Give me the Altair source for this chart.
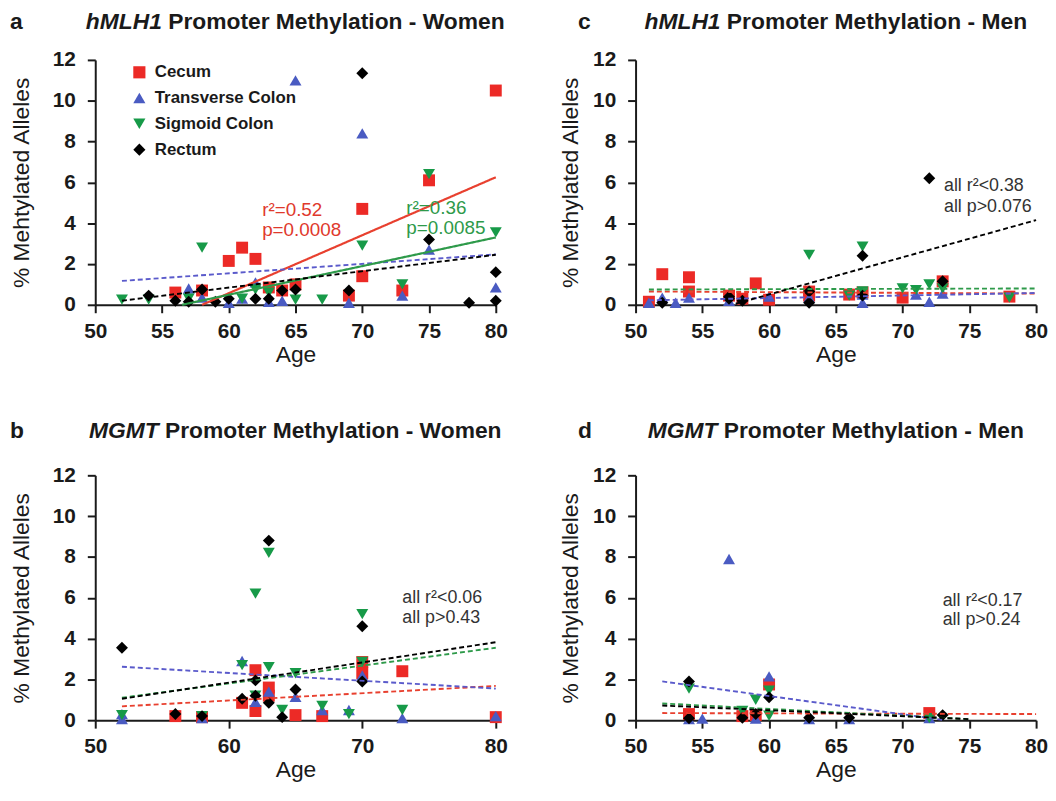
import altair as alt
import pandas as pd

FONT = "Liberation Sans"
SITES = ["Cecum", "Transverse Colon", "Sigmoid Colon", "Rectum"]
SHAPES = ["square", "triangle-up", "triangle-down", "diamond"]
COLORS = ["#ec2a26", "#4a5bc2", "#179a48", "#000000"]
LINE_COLORS = ["#e8402f", "#5a5acb", "#2e9a4a", "#000000"]

# ---------------- panel a: hMLH1 Women ----------------
A_CECUM_AGE = [56, 58, 60, 61, 62, 63, 64, 65, 69, 70, 70, 73, 75, 80]
A_CECUM_VAL = [0.6, 0.7, 2.15, 2.8, 2.25, 0.85, 0.7, 1.0, 0.45, 4.7, 1.4, 0.7, 6.1, 10.5]
A_TRANS_AGE = [57, 58, 60, 61, 62, 63, 64, 65, 69, 70, 73, 75, 80]
A_TRANS_VAL = [0.8, 0.35, 0.1, 0.3, 1.1, 0.15, 0.2, 11.0, 0.1, 8.4, 0.45, 2.7, 0.85]
A_SIGM_AGE = [52, 54, 57, 58, 61, 62, 63, 65, 67, 70, 73, 75, 80]
A_SIGM_VAL = [0.25, 0.25, 0.3, 2.8, 0.3, 0.75, 0.6, 0.25, 0.25, 2.9, 1.0, 6.4, 3.55]
A_RECT_AGE = [54, 56, 57, 58, 59, 60, 62, 63, 64, 65, 69, 70, 75, 78, 80, 80]
A_RECT_VAL = [0.45, 0.2, 0.15, 0.75, 0.15, 0.3, 0.3, 0.3, 0.7, 0.75, 0.7, 11.35, 3.2, 0.1, 1.6, 0.2]
A_FIT_X1 = [58, 52, 56.5, 52]
A_FIT_Y1 = [0.0, 1.17, 0.0, 0.2]
A_FIT_X2 = [80, 80, 80, 80]
A_FIT_Y2 = [6.25, 2.47, 3.3, 2.45]
A_FIT_STYLE = ["solid", "dash", "solid", "dash"]
A_NOTE_RED = (["r²=0.52", "p=0.0008"], [62.5, 62.5], [4.64, 3.66])
A_NOTE_GREEN = (["r²=0.36", "p=0.0085"], [73.3, 73.3], [4.74, 3.76])

# ---------------- panel b: MGMT Women ----------------
B_CECUM_AGE = [56, 58, 61, 62, 62, 63, 63, 65, 67, 70, 70, 73, 80]
B_CECUM_VAL = [0.2, 0.15, 0.85, 2.45, 0.45, 1.6, 1.2, 0.25, 0.2, 2.85, 2.3, 2.4, 0.15]
B_TRANS_AGE = [52, 52, 58, 61, 62, 63, 65, 67, 69, 70, 73, 80]
B_TRANS_VAL = [0.3, 0.05, 0.1, 2.9, 0.9, 1.4, 1.15, 0.5, 0.5, 2.2, 0.1, 0.2]
B_SIGM_AGE = [52, 58, 61, 62, 62, 63, 63, 64, 65, 67, 69, 70, 70, 73]
B_SIGM_VAL = [0.25, 0.2, 2.7, 6.2, 1.2, 8.2, 2.6, 0.5, 2.3, 0.7, 0.3, 5.2, 2.85, 0.5]
B_RECT_AGE = [52, 56, 58, 61, 62, 62, 63, 63, 64, 65, 70, 70]
B_RECT_VAL = [3.55, 0.3, 0.2, 1.05, 1.95, 1.2, 8.8, 0.85, 0.15, 1.5, 4.6, 1.9]
B_FIT_X1 = [52, 52, 52, 52]
B_FIT_Y1 = [0.68, 2.62, 1.1, 1.05]
B_FIT_X2 = [80, 80, 80, 80]
B_FIT_Y2 = [1.68, 1.55, 3.55, 3.82]
B_FIT_STYLE = ["dash", "dash", "dash", "dash"]
B_NOTE = (["all r²<0.06", "all p>0.43"], [73.0, 73.0], [5.97, 5.0])

# ---------------- panel c: hMLH1 Men ----------------
C_CECUM_AGE = [51, 52, 54, 54, 57, 58, 59, 60, 63, 63, 66, 67, 70, 73, 78]
C_CECUM_VAL = [0.15, 1.5, 1.35, 0.65, 0.45, 0.3, 1.05, 0.25, 0.45, 0.65, 0.5, 0.6, 0.35, 1.15, 0.4]
C_TRANS_AGE = [51, 52, 53, 54, 57, 60, 63, 67, 67, 71, 72, 73]
C_TRANS_VAL = [0.1, 0.35, 0.1, 0.35, 0.2, 0.4, 0.35, 0.5, 0.1, 0.5, 0.15, 0.55]
C_SIGM_AGE = [63, 66, 67, 67, 70, 71, 72, 73, 78]
C_SIGM_VAL = [2.45, 0.45, 2.85, 0.65, 0.8, 0.72, 1.0, 0.8, 0.35]
C_RECT_AGE = [52, 57, 57, 58, 63, 63, 67, 67, 72, 73]
C_RECT_VAL = [0.1, 0.3, 0.4, 0.2, 0.65, 0.1, 2.4, 0.45, 6.2, 1.15]
C_FIT_X1 = [51, 51, 51, 57.5]
C_FIT_Y1 = [0.65, 0.22, 0.75, 0.05]
C_FIT_X2 = [80, 80, 80, 80]
C_FIT_Y2 = [0.55, 0.58, 0.8, 4.15]
C_FIT_STYLE = ["dash", "dash", "dash", "dash"]
C_NOTE = (["all r²<0.38", "all p>0.076"], [73.1, 73.1], [5.8, 4.8])

# ---------------- panel d: MGMT Men ----------------
D_CECUM_AGE = [54, 58, 59, 60, 72]
D_CECUM_VAL = [0.3, 0.2, 0.25, 1.75, 0.35]
D_TRANS_AGE = [54, 55, 57, 59, 60, 63, 66, 72]
D_TRANS_VAL = [0.05, 0.08, 7.9, 0.08, 2.15, 0.05, 0.05, 0.1]
D_SIGM_AGE = [54, 58, 59, 60, 60, 72]
D_SIGM_VAL = [1.55, 0.45, 1.0, 1.45, 0.22, 0.1]
D_RECT_AGE = [54, 54, 58, 59, 60, 63, 66, 73]
D_RECT_VAL = [1.9, 0.1, 0.12, 0.3, 1.12, 0.12, 0.12, 0.25]
D_FIT_X1 = [52, 52, 52, 52]
D_FIT_Y1 = [0.35, 1.9, 0.82, 0.72]
D_FIT_X2 = [80, 73, 75, 75]
D_FIT_Y2 = [0.3, 0.02, 0.05, 0.05]
D_FIT_STYLE = ["dash", "dash", "dash", "dash"]
D_NOTE = (["all r²<0.17", "all p>0.24"], [73.0, 73.0], [5.85, 4.9])

Y_TICKS = [0, 2, 4, 6, 8, 10, 12]
X_TICKS_5 = [50, 55, 60, 65, 70, 75, 80]
X_TICKS_10 = [50, 60, 70, 80]

W, H = 404, 247
INK = "#1a1a1a"

# Arial/Liberation Sans Bold advance widths (per 1000 em) for centring the mixed-style titles
BOLD_W = {" ": 278, "-": 333, "1": 556, "h": 611, "M": 833, "L": 611, "H": 722, "G": 778,
          "T": 611, "P": 667, "r": 389, "o": 611, "m": 889, "t": 333, "e": 556, "y": 556,
          "l": 278, "a": 556, "i": 278, "n": 611, "W": 944}


def tw(s, size):
    return sum(BOLD_W.get(c, 600) for c in s) * size / 1000.0


def txt(s, x, y, size, align, style="normal", weight="bold", color=INK):
    return alt.Chart(pd.DataFrame({"t": [s]})).mark_text(
        align=align, baseline="middle", fontSize=size, fontWeight=weight,
        fontStyle=style, font=FONT, color=color
    ).encode(x=alt.value(x), y=alt.value(y), text="t:N")


def panel(points, fit, notes, italic, rest, ytitle, xticks, letter, letter_x, title_y, legend, ytp):
    rows = []
    for site, ages, vals in points:
        for a, v in zip(ages, vals):
            rows.append({"site": site, "age": a, "val": v})
    pdf = pd.DataFrame(rows)
    fdf = pd.DataFrame({"site": SITES, "age": fit[0], "val": fit[1], "age2": fit[2],
                        "val2": fit[3], "style": fit[4]})
    xs = alt.Scale(domain=[50, 80], nice=False, zero=False)
    ys = alt.Scale(domain=[0, 12], nice=False)

    def xax():
        return alt.Axis(values=xticks, title="Age")

    def yax():
        return alt.Axis(values=Y_TICKS, title=ytitle, titlePadding=ytp)

    if legend:
        leg = alt.Legend(orient="none", legendX=36, legendY=4, title=None, labelFontSize=17,
                         labelFontWeight="bold", labelFont=FONT, labelColor=INK, symbolSize=150,
                         rowPadding=8, padding=0, labelOffset=7, symbolOpacity=1, symbolStrokeWidth=0)
    else:
        leg = None
    pts = alt.Chart(pdf).mark_point(filled=True, opacity=1, size=145, strokeWidth=0).encode(
        x=alt.X("age:Q", scale=xs, axis=xax()),
        y=alt.Y("val:Q", scale=ys, axis=yax()),
        color=alt.Color("site:N", scale=alt.Scale(domain=SITES, range=COLORS), legend=leg),
        shape=alt.Shape("site:N", scale=alt.Scale(domain=SITES, range=SHAPES), legend=leg),
    )
    lines = alt.Chart(fdf).mark_rule().encode(
        x=alt.X("age:Q", scale=xs, axis=xax()),
        y=alt.Y("val:Q", scale=ys, axis=yax()),
        x2="age2:Q", y2="val2:Q",
        stroke=alt.Stroke("site:N", scale=alt.Scale(domain=SITES, range=LINE_COLORS), legend=None),
        strokeDash=alt.StrokeDash("style:N", scale=alt.Scale(domain=["solid", "dash"], range=[[1, 0], [5, 3]]),
                                  legend=None),
        strokeWidth=alt.StrokeWidth("style:N", scale=alt.Scale(domain=["solid", "dash"], range=[2.2, 1.9]),
                                    legend=None),
    )
    layers = [pts, lines]
    for (texts, ages, vals), color, size in notes:
        ndf = pd.DataFrame({"t": texts, "age": ages, "val": vals})
        layers.append(alt.Chart(ndf).mark_text(align="left", baseline="middle", fontSize=size,
                                               font=FONT, color=color).encode(
            x=alt.X("age:Q", scale=xs, axis=xax()),
            y=alt.Y("val:Q", scale=ys, axis=yax()),
            text="t:N"))
    # title: italic gene name + bold rest, centred above the plot
    size = 23
    total = tw(italic, size) + tw(" " + rest, size)
    left = W / 2 - total / 2
    join = left + tw(italic, size)
    layers.append(txt(italic, join, title_y, size, "right", style="italic"))
    layers.append(txt(rest, join + tw(" ", size), title_y, size, "left"))
    layers.append(txt(letter, letter_x, title_y, 23, "left"))
    return alt.layer(*layers).properties(width=W, height=H)


def pts(c, t, s, r):
    return [(SITES[0], c[0], c[1]), (SITES[1], t[0], t[1]), (SITES[2], s[0], s[1]), (SITES[3], r[0], r[1])]


pa = panel(pts((A_CECUM_AGE, A_CECUM_VAL), (A_TRANS_AGE, A_TRANS_VAL), (A_SIGM_AGE, A_SIGM_VAL),
               (A_RECT_AGE, A_RECT_VAL)),
           (A_FIT_X1, A_FIT_Y1, A_FIT_X2, A_FIT_Y2, A_FIT_STYLE),
           [(A_NOTE_RED, "#e0392c", 19), (A_NOTE_GREEN, "#2e9a4a", 19)],
           "hMLH1", "Promoter Methylation - Women", "% Mehtylated Alleles", X_TICKS_5, "a", -86, -38, True, 19)
pc = panel(pts((C_CECUM_AGE, C_CECUM_VAL), (C_TRANS_AGE, C_TRANS_VAL), (C_SIGM_AGE, C_SIGM_VAL),
               (C_RECT_AGE, C_RECT_VAL)),
           (C_FIT_X1, C_FIT_Y1, C_FIT_X2, C_FIT_Y2, C_FIT_STYLE),
           [(C_NOTE, "#333333", 18)],
           "hMLH1", "Promoter Methylation - Men", "% Methylated Alleles", X_TICKS_5, "c", -58, -38, False, 10)
pb = panel(pts((B_CECUM_AGE, B_CECUM_VAL), (B_TRANS_AGE, B_TRANS_VAL), (B_SIGM_AGE, B_SIGM_VAL),
               (B_RECT_AGE, B_RECT_VAL)),
           (B_FIT_X1, B_FIT_Y1, B_FIT_X2, B_FIT_Y2, B_FIT_STYLE),
           [(B_NOTE, "#333333", 18)],
           "MGMT", "Promoter Methylation - Women", "% Methylated Alleles", X_TICKS_10, "b", -86, -45, False, 19)
pd_ = panel(pts((D_CECUM_AGE, D_CECUM_VAL), (D_TRANS_AGE, D_TRANS_VAL), (D_SIGM_AGE, D_SIGM_VAL),
                (D_RECT_AGE, D_RECT_VAL)),
            (D_FIT_X1, D_FIT_Y1, D_FIT_X2, D_FIT_Y2, D_FIT_STYLE),
            [(D_NOTE, "#333333", 18)],
            "MGMT", "Promoter Methylation - Men", "% Methylated Alleles", X_TICKS_5, "d", -58, -45, False, 10)

chart = alt.concat(pa, pc, pb, pd_, columns=2, spacing={"row": 172, "column": 141}, bounds="flush").resolve_scale(
    color="independent", shape="independent", stroke="independent", strokeDash="independent",
    strokeWidth="independent"
).resolve_legend(color="independent", shape="independent").properties(
    padding={"left": 2, "top": 0, "right": 0, "bottom": 0}
).configure(font=FONT).configure_view(stroke=None).configure_axis(
    grid=False, labelFontSize=21, labelFontWeight="bold", labelColor=INK, titleFontSize=23,
    titleFontWeight="normal", titleColor=INK, tickSize=8, tickWidth=2, tickColor=INK,
    domainWidth=2, domainColor=INK, labelFlush=False, labelOverlap=False, labelFont=FONT, titleFont=FONT
).configure_axisX(labelPadding=8, titlePadding=2).configure_axisY(labelPadding=12)

chart.save("out.html", embed_options={"renderer": "svg", "actions": False})
